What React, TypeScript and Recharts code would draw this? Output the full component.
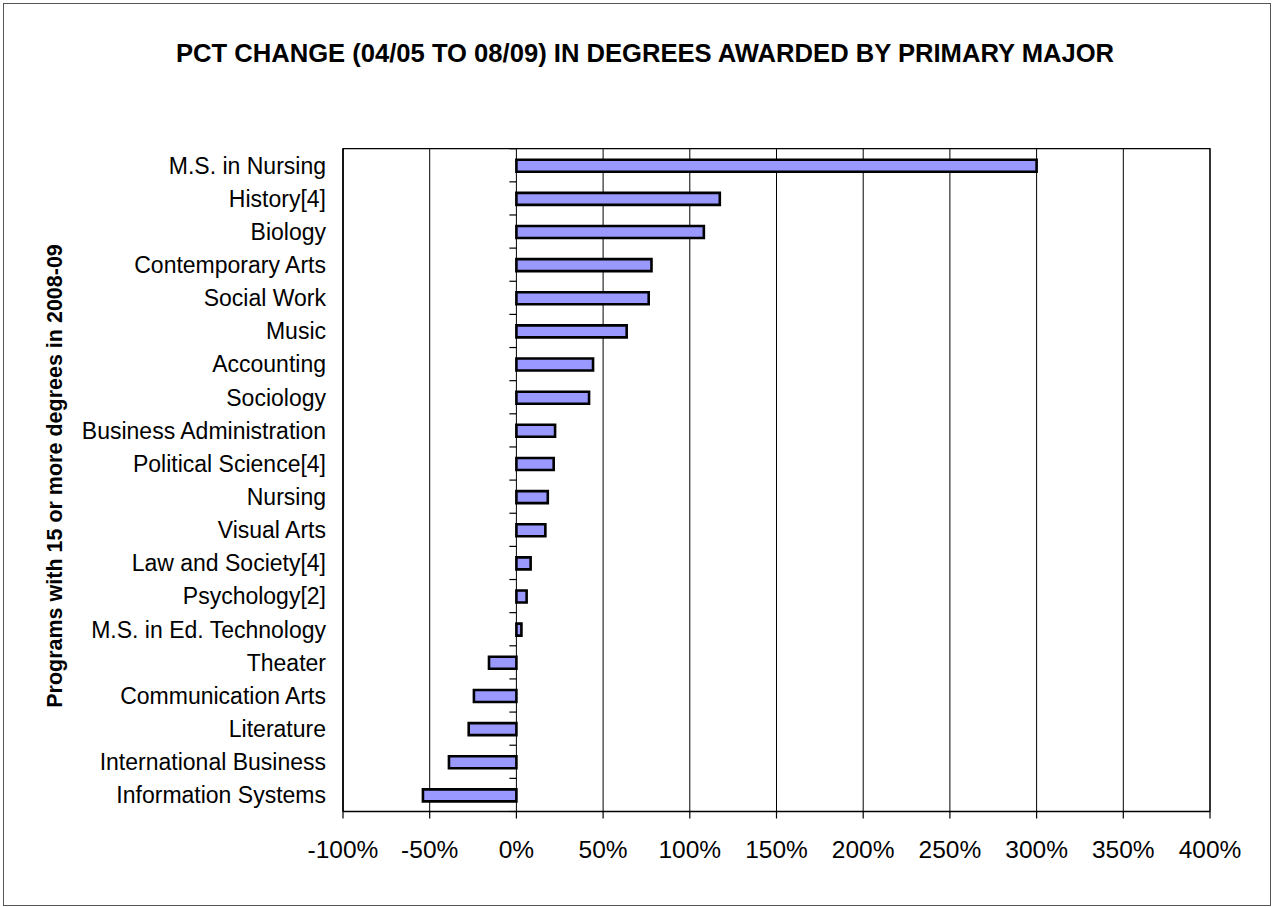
import React from 'react';
import { BarChart, Bar, XAxis, YAxis, CartesianGrid, ReferenceArea } from 'recharts';

const categories = [
    'M.S. in Nursing',
    'History[4]',
    'Biology',
    'Contemporary Arts',
    'Social Work',
    'Music',
    'Accounting',
    'Sociology',
    'Business Administration',
    'Political Science[4]',
    'Nursing',
    'Visual Arts',
    'Law and Society[4]',
    'Psychology[2]',
    'M.S. in Ed. Technology',
    'Theater',
    'Communication Arts',
    'Literature',
    'International Business',
    'Information Systems',
];

// percent change 04/05 -> 08/09
const pctChange = [
    300, 117.3, 108.1, 77.9, 76.3, 63.6, 44.2, 41.9, 22.3, 21.5,
    18.1, 16.7, 8.2, 5.9, 2.9, -15.8, -24.5, -27.5, -38.9, -53.9,
];

const xTicks = [-100, -50, 0, 50, 100, 150, 200, 250, 300, 350, 400];

const data = categories.map((name, i) => ({ name, value: pctChange[i] }));

const W = 1278;
const H = 907;
const PLOT_LEFT = 343;
const PLOT_RIGHT = 1210;
const PLOT_TOP = 148.7;
const PLOT_BOTTOM = 811.5;
const X_MIN = xTicks[0];
const X_MAX = xTicks[xTicks.length - 1];
const FONT = '"Liberation Sans", Arial, sans-serif';

const zeroX = PLOT_LEFT + ((PLOT_RIGHT - PLOT_LEFT) * (0 - X_MIN)) / (X_MAX - X_MIN);
const band = (PLOT_BOTTOM - PLOT_TOP) / categories.length;

const CategoryTick = (props: any) => {
    const { y, payload, index } = props;
    const last = index === categories.length - 1;
    return (
        <g>
            <text
                x={PLOT_LEFT - 17}
                y={y}
                dy="0.36em"
                textAnchor="end"
                fontFamily={FONT}
                fontSize={23}
                fill="#000"
            >
                {payload.value}
            </text>
            <line x1={zeroX - 7} x2={zeroX} y1={y - band / 2} y2={y - band / 2} stroke="#000" strokeWidth={1.2} />
            {last && (
                <line x1={zeroX - 7} x2={zeroX} y1={y + band / 2} y2={y + band / 2} stroke="#000" strokeWidth={1.2} />
            )}
        </g>
    );
};

export default function App() {
    return (
        <div style={{ position: 'absolute', left: 0, top: 0, width: W, height: H, background: '#fff' }}>
            <div
                style={{
                    position: 'absolute',
                    left: 3,
                    top: 3,
                    width: 1268,
                    height: 903,
                    border: '1.5px solid #555',
                    boxSizing: 'border-box',
                }}
            />
            <BarChart
                width={W}
                height={H}
                data={data}
                layout="vertical"
                margin={{ top: PLOT_TOP, right: W - PLOT_RIGHT, bottom: H - PLOT_BOTTOM - 40, left: 0 }}
                barCategoryGap={0}
            >
                <CartesianGrid horizontal={false} stroke="#000" strokeWidth={1} />
                <ReferenceArea
                    x1={X_MIN}
                    x2={X_MAX}
                    fill="none"
                    fillOpacity={0}
                    stroke="#000"
                    strokeWidth={1.2}
                />
                <XAxis
                    type="number"
                    domain={[X_MIN, X_MAX]}
                    ticks={xTicks}
                    interval={0}
                    tickFormatter={(v) => `${v}%`}
                    height={40}
                    axisLine={{ stroke: '#000', strokeWidth: 1.5 }}
                    tickLine={{ stroke: '#000', strokeWidth: 1.2 }}
                    tickSize={7}
                    tickMargin={22}
                    tick={{ fill: '#000', fontSize: 24.5, fontFamily: FONT }}
                />
                <YAxis
                    type="category"
                    dataKey="name"
                    width={PLOT_LEFT}
                    interval={0}
                    axisLine={{ stroke: '#000', strokeWidth: 1.2 }}
                    tickLine={false}
                    tick={<CategoryTick />}
                />
                <Bar
                    dataKey="value"
                    fill="#9999FF"
                    stroke="#000"
                    strokeWidth={2.6}
                    barSize={12}
                    isAnimationActive={false}
                />
            </BarChart>
            <svg
                width={W}
                height={H}
                style={{ position: 'absolute', left: 0, top: 0, pointerEvents: 'none' }}
            >
                <text
                    x={645}
                    y={61.7}
                    textAnchor="middle"
                    fontFamily={FONT}
                    fontWeight="bold"
                    fontSize={25.6}
                    fill="#000"
                >
                    PCT CHANGE (04/05 TO 08/09) IN DEGREES AWARDED BY PRIMARY MAJOR
                </text>
                <text
                    transform="translate(62,476) rotate(-90)"
                    textAnchor="middle"
                    fontFamily={FONT}
                    fontWeight="bold"
                    fontSize={21.5}
                    fill="#000"
                >
                    Programs with 15 or more degrees in 2008-09
                </text>
            </svg>
        </div>
    );
}
